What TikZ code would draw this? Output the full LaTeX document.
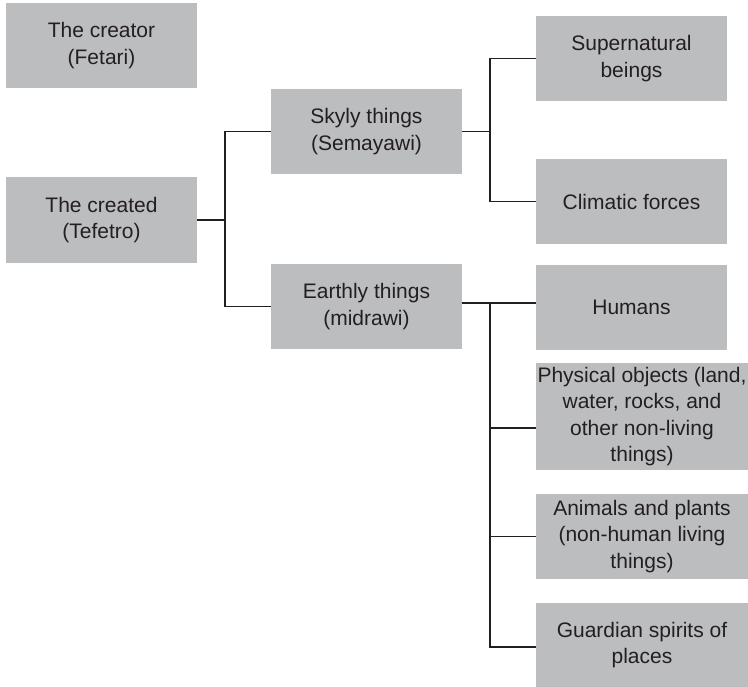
\documentclass[tikz,border=0pt]{standalone}
\usepackage{fontspec}
\setmainfont{Liberation Sans}
\definecolor{boxgray}{HTML}{BCBDBF}
\definecolor{txt}{HTML}{231F20}
\begin{document}
\begin{tikzpicture}[x=1pt,y=-1pt,
  box/.style={fill=boxgray, minimum width=191pt, minimum height=85pt, align=center,
    inner sep=0pt, text=txt, font=\fontsize{21}{26.5}\selectfont},
  widebox/.style={box, minimum width=212pt},
  conn/.style={draw=txt, line width=1.9pt}]
\useasboundingbox (0,0) rectangle (748,687);
\node[box] (creator) at (101.5,45.5) {The creator\\(Fetari)};
\node[box, minimum height=86pt] (created) at (101.5,220) {The created\\(Tefetro)};
\node[box] (sky) at (366.5,131.5) {Skyly things\\(Semayawi)};
\node[box] (earth) at (366.5,306.5) {Earthly things\\(midrawi)};
\node[box] (super) at (631.5,58.5) {Supernatural\\beings};
\node[box] (clim) at (631.5,201.5) {Climatic forces};
\node[box] (hum) at (631.5,307.5) {Humans};
\node[widebox, minimum height=107pt] (phys) at (642,416.5) {Physical objects (land,\\water, rocks, and\\other non-living\\things)};
\node[widebox] (anim) at (642,536.5) {Animals and plants\\(non-human living\\things)};
\node[widebox] (guard) at (642,645) {Guardian spirits of\\places};
\draw[conn] (created.east) -- ++(28,0) |- (sky.west);
\draw[conn] (created.east) -- ++(28,0) |- (earth.west);
\draw[conn] (sky.east) -- ++(28,0) |- (super.west);
\draw[conn] (sky.east) -- ++(28,0) |- (clim.west);
\draw[conn] ([yshift=3.5pt]earth.east) -- ++(28,0) |- ([yshift=4.5pt]hum.west);
\draw[conn] ([yshift=3.5pt]earth.east) -- ++(28,0) |- ([yshift=-11.5pt]phys.west);
\draw[conn] ([yshift=3.5pt]earth.east) -- ++(28,0) |- (anim.west);
\draw[conn] ([yshift=3.5pt]earth.east) -- ++(28,0) |- ([yshift=-2pt]guard.west);
\end{tikzpicture}
\end{document}
